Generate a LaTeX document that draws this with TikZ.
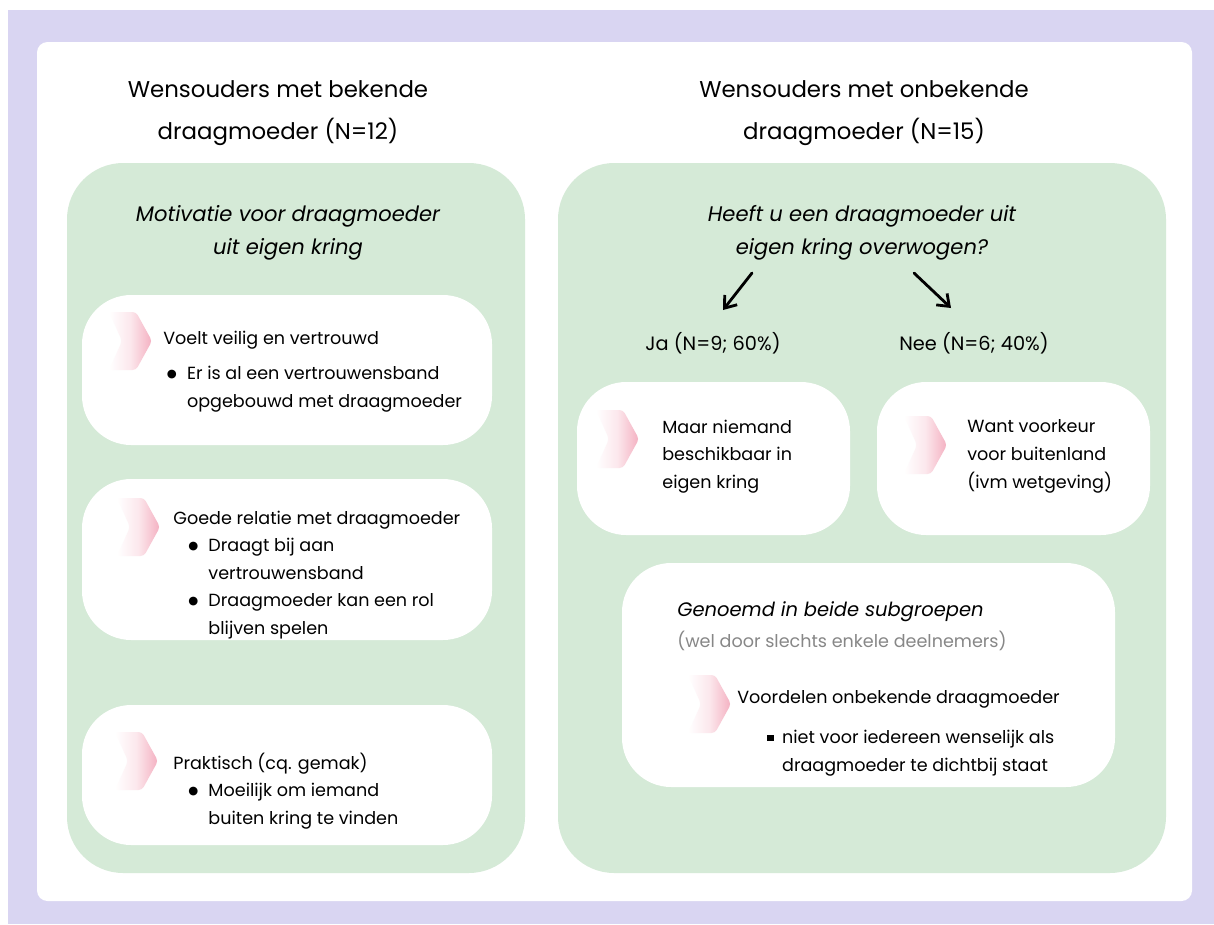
\documentclass[tikz,border=0pt]{standalone}
\usepackage{fontspec}
\setmainfont{Poppins}
\newfontfamily\dejavu{DejaVu Sans}
\usetikzlibrary{arrows.meta}
\definecolor{lavender}{RGB}{217,213,242}
\definecolor{panelgreen}{RGB}{213,234,215}
\definecolor{chevpink}{RGB}{244,176,193}
\definecolor{notegray}{RGB}{135,135,135}
\tikzset{
    panel/.style={fill=panelgreen, rounded corners=32pt},
    card/.style={fill=white, rounded corners=28pt},
    title/.style={anchor=north, align=center, inner sep=0pt, font=\fontsize{13}{23.8}\selectfont},
    head/.style={anchor=north, align=center, inner sep=0pt, font=\fontsize{12}{18.7}\selectfont\itshape},
    txt/.style={anchor=north west, align=left, inner sep=0pt, font=\fontsize{10}{15.7}\selectfont},
    answer/.style={anchor=base, inner sep=0pt, font=\fontsize{11}{14}\selectfont},
    arrow/.style={-{Straight Barb[length=6pt,width=9pt]}, line width=1.6pt, line cap=round},
}
% chevron with its top left corner at (#1,#2)
\newcommand{\chev}[2]{%
    \shade[left color=white, right color=chevpink, middle color=chevpink!30, rounded corners=2pt]
        (#1,#2) -- ++(27,0) -- ++(16,29) -- ++(-16,29) -- ++(-27,0) -- ++(13,-29) -- cycle;}
\newcommand{\bul}{\makebox[11.5pt][l]{\raisebox{1.4pt}{\dejavu\fontsize{6.5}{7}\selectfont ●}}}
\newcommand{\sqbul}{\makebox[8.5pt][l]{\rule[1.6pt]{3.6pt}{3.6pt}}}

\begin{document}
\begin{tikzpicture}[x=0.02cm, y=-0.02cm]
    \useasboundingbox (0,0) rectangle (1214,924);
    \fill[lavender] (8,10) rectangle (1214,924);
    \fill[white, rounded corners=6pt] (37,42) rectangle (1192,901);

    % titles
    \node[title] (tleft) at (278,80) {Wensouders met bekende\\draagmoeder (N=12)};
    \node[title] (tright) at (864,80) {Wensouders met onbekende\\draagmoeder (N=15)};

    % green panels
    \fill[panel] (67,163) rectangle (525,873);
    \fill[panel] (558,163) rectangle (1166,873);
    \node[head] (hleft) at (288,205) {Motivatie voor draagmoeder\\uit eigen kring};
    \node[head] (hright) at (862,205) {Heeft u een draagmoeder uit\\eigen kring overwogen?};

    % left column
    \fill[card] (82,295) rectangle (492,445);
    \chev{109}{312}
    \node[txt] (veilig) at (163,330.5) {Voelt veilig en vertrouwd\\[4.4pt]
        \hspace*{2pt}\bul Er is al een vertrouwensband\\
        \hspace*{13.5pt}opgebouwd met draagmoeder};

    \fill[card] (82,479) rectangle (492,640);
    \chev{117}{498}
    \node[txt] (relatie) at (173,510.5) {Goede relatie met draagmoeder\\
        \hspace*{8.5pt}\bul Draagt bij aan\\
        \hspace*{20pt}vertrouwensband\\
        \hspace*{8.5pt}\bul Draagmoeder kan een rol\\
        \hspace*{20pt}blijven spelen};

    \fill[card] (82,705) rectangle (492,845);
    \chev{115}{732}
    \node[txt] (praktisch) at (173,752.5) {Praktisch (cq. gemak)\\
        \hspace*{8.5pt}\bul Moeilijk om iemand\\
        \hspace*{20pt}buiten kring te vinden};

    % right column
    \coordinate (jaFrom) at (752,273);
    \coordinate (jaTo) at (723,310);
    \coordinate (neeFrom) at (914,273);
    \coordinate (neeTo) at (951,308);
    \draw[arrow] (jaFrom) -- (jaTo);
    \draw[arrow] (neeFrom) -- (neeTo);
    \node[answer] (ja) at (713,350) {Ja (N=9; 60\%)};
    \node[answer] (nee) at (974,350) {Nee (N=6; 40\%)};

    \fill[card] (577,382) rectangle (850,535);
    \chev{596}{410}
    \node[txt] (niemand) at (662,419.5) {Maar niemand\\beschikbaar in\\eigen kring};

    \fill[card] (877,382) rectangle (1150,535);
    \chev{904}{416}
    \node[txt] (voorkeur) at (967,419.5) {Want voorkeur\\voor buitenland\\(ivm wetgeving)};

    \fill[card] (622,563) rectangle (1115,787);
    \node[txt, font=\fontsize{11.1}{17}\selectfont\itshape] (beide) at (677,601) {Genoemd in beide subgroepen};
    \node[txt, text=notegray] (enkele) at (677,630.5) {(wel door slechts enkele deelnemers)};
    \chev{688}{675}
    \node[txt] (voordelen) at (737,690.5) {Voordelen onbekende draagmoeder\\[7pt]
        \hspace*{17pt}\sqbul niet voor iedereen wenselijk als\\
        \hspace*{25.5pt}draagmoeder te dichtbij staat};
\end{tikzpicture}
\end{document}
